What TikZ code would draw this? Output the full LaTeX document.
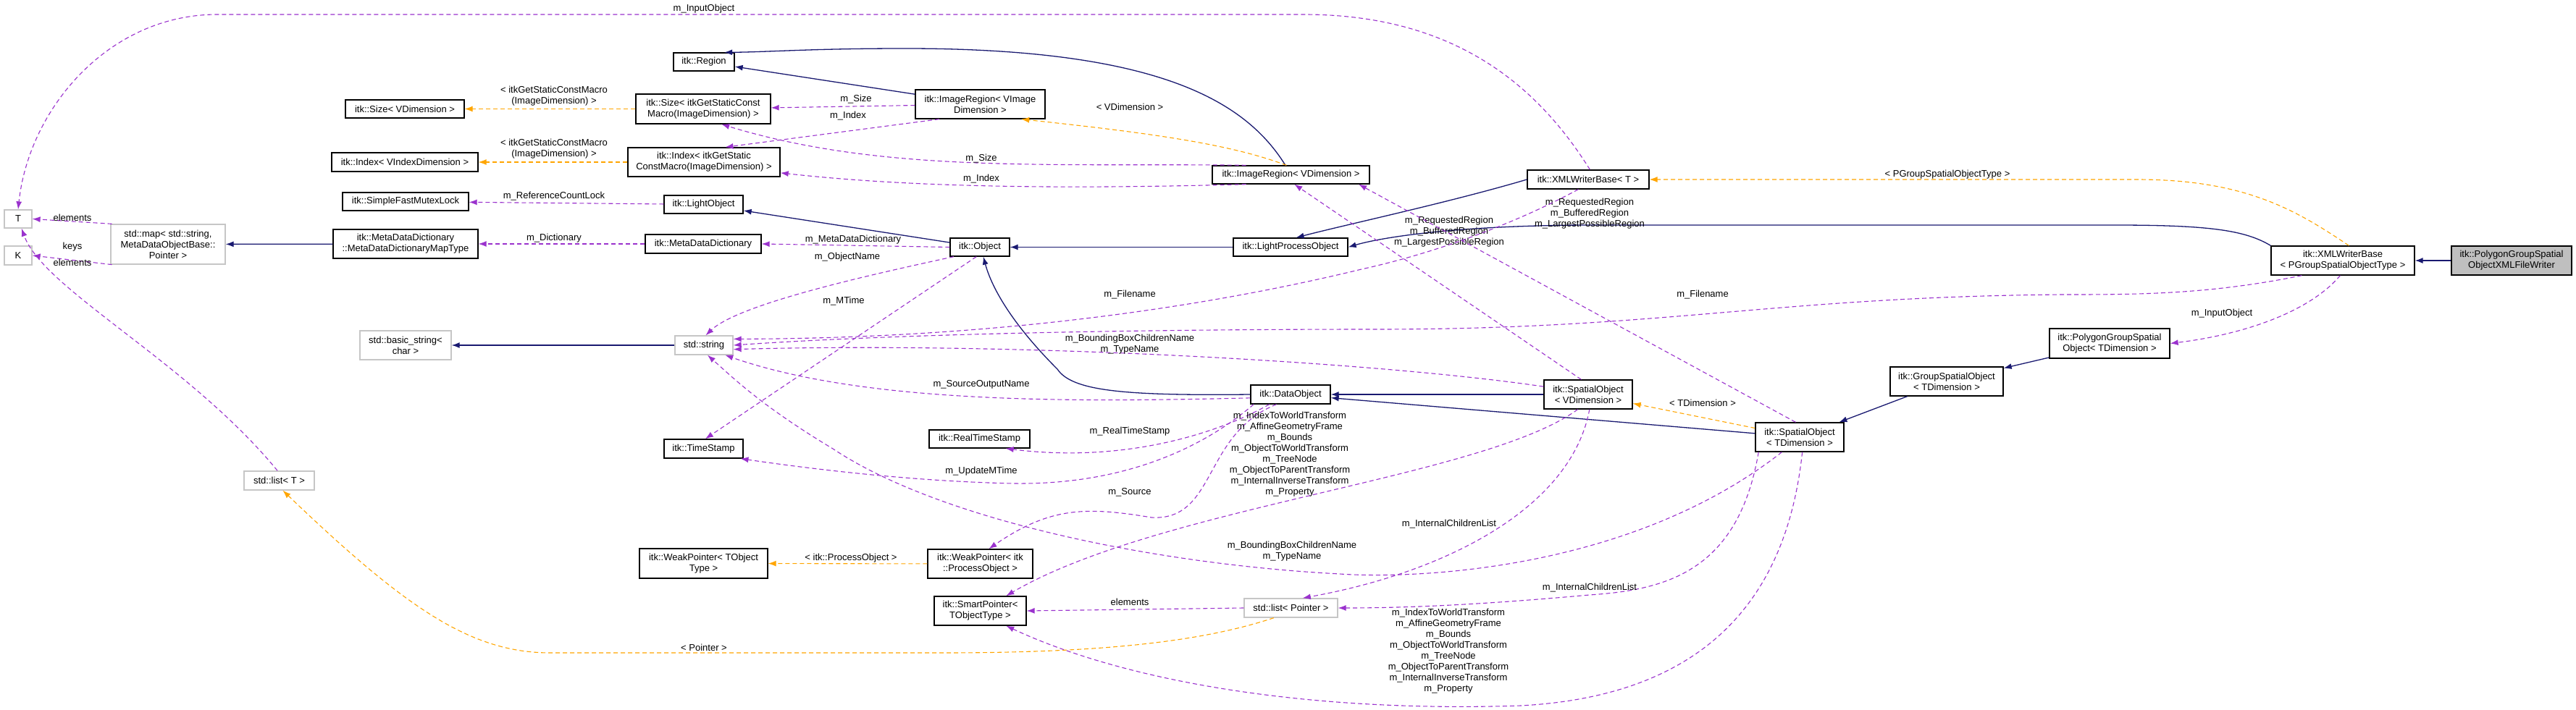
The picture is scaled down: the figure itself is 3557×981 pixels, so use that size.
\documentclass[tikz,border=0pt]{standalone}
\usepackage{fontspec}
\setmainfont{Liberation Sans}
\usetikzlibrary{arrows.meta}
\definecolor{inhc}{HTML}{191970}
\definecolor{usec}{HTML}{9A32CD}
\definecolor{tplc}{HTML}{FFA500}
\begin{document}
\begin{tikzpicture}[x=1pt,y=-1pt,
  every node/.style={font=\fontsize{13}{15}\selectfont},
  box/.style={draw=black,line width=1.3pt,fill=white,inner sep=0pt,align=center},
  gbox/.style={draw=gray!45,line width=1.3pt,fill=white,inner sep=0pt,align=center},
  tip/.style={-{Latex[length=11pt,width=8pt]}},
  inh/.style={tip,draw=inhc,line width=1.3pt},
  use/.style={tip,draw=usec,line width=1.1pt,dash pattern=on 6pt off 4pt},
  tpl/.style={tip,draw=tplc,line width=1.1pt,dash pattern=on 6pt off 4pt},
  lab/.style={align=center,inner sep=0pt}]
\useasboundingbox (0,0) rectangle (3557,981);
% nodes
\node[box,minimum width=84pt,minimum height=25pt] (region) at (972,85.5) {itk::Region};
\node[box,minimum width=164pt,minimum height=25pt] (sizeV) at (559,150.5) {itk::Size< VDimension >};
\node[box,minimum width=186pt,minimum height=41pt] (sizeM) at (971,150.5) {itk::Size< itkGetStaticConst\\Macro(ImageDimension) >};
\node[box,minimum width=202pt,minimum height=26pt] (indexV) at (559,224) {itk::Index< VIndexDimension >};
\node[box,minimum width=210pt,minimum height=40pt] (indexM) at (972,224) {itk::Index< itkGetStatic\\ConstMacro(ImageDimension) >};
\node[box,minimum width=174pt,minimum height=25pt] (mutex) at (560,278.5) {itk::SimpleFastMutexLock};
\node[box,minimum width=109pt,minimum height=25pt] (lightobj) at (971.5,282.5) {itk::LightObject};
\node[gbox,minimum width=38pt,minimum height=25pt] (T) at (25,302.5) {T};
\node[gbox,minimum width=38pt,minimum height=26pt] (K) at (25,353) {K};
\node[gbox,minimum width=158pt,minimum height=55pt] (map) at (232,337.5) {std::map< std::string,\\MetaDataObjectBase::\\Pointer >};
\node[box,minimum width=200pt,minimum height=40pt] (mddmap) at (560,337) {itk::MetaDataDictionary\\::MetaDataDictionaryMapType};
\node[box,minimum width=160pt,minimum height=26pt] (mdd) at (971,337) {itk::MetaDataDictionary};
\node[gbox,minimum width=126pt,minimum height=40pt] (basic) at (560,477) {std::basic\_string<\\char >};
\node[gbox,minimum width=80pt,minimum height=26pt] (string) at (972,477) {std::string};
\node[box,minimum width=179pt,minimum height=40pt] (imgregVI) at (1353.5,144) {itk::ImageRegion< VImage\\Dimension >};
\node[box,minimum width=217pt,minimum height=25pt] (imgregV) at (1782.5,241.5) {itk::ImageRegion< VDimension >};
\node[box,minimum width=168pt,minimum height=26pt] (xmlT) at (2193,248) {itk::XMLWriterBase< T >};
\node[box,minimum width=82pt,minimum height=25pt] (object) at (1353,341.5) {itk::Object};
\node[box,minimum width=158pt,minimum height=25pt] (lpo) at (1782,341.5) {itk::LightProcessObject};
\node[box,minimum width=198pt,minimum height=40pt] (xmlP) at (3235,360) {itk::XMLWriterBase\\< PGroupSpatialObjectType >};
\node[box,fill=gray!50,minimum width=166pt,minimum height=40pt] (writer) at (3468,360) {itk::PolygonGroupSpatial\\ObjectXMLFileWriter};
\node[box,minimum width=166pt,minimum height=41pt] (pgso) at (2913,474.5) {itk::PolygonGroupSpatial\\Object< TDimension >};
\node[box,minimum width=109pt,minimum height=26pt] (timestamp) at (971.5,620) {itk::TimeStamp};
\node[gbox,minimum width=97pt,minimum height=26pt] (listT) at (385.5,664) {std::list< T >};
\node[box,minimum width=177pt,minimum height=41pt] (wpT) at (971.5,778.5) {itk::WeakPointer< TObject\\Type >};
\node[box,minimum width=110pt,minimum height=26pt] (dataobj) at (1782,545) {itk::DataObject};
\node[box,minimum width=122pt,minimum height=40pt] (soV) at (2193,545) {itk::SpatialObject\\< VDimension >};
\node[box,minimum width=139pt,minimum height=25pt] (rts) at (1352.5,606.5) {itk::RealTimeStamp};
\node[box,minimum width=145pt,minimum height=40pt] (wpPO) at (1353.5,779) {itk::WeakPointer< itk\\::ProcessObject >};
\node[box,minimum width=127pt,minimum height=40pt] (sp) at (1353.5,844) {itk::SmartPointer<\\TObjectType >};
\node[gbox,minimum width=129pt,minimum height=26pt] (listP) at (1782.5,840) {std::list< Pointer >};
\node[box,minimum width=156pt,minimum height=40pt] (gso) at (2688,527) {itk::GroupSpatialObject\\< TDimension >};
\node[box,minimum width=122pt,minimum height=40pt] (soT) at (2485,604) {itk::SpatialObject\\< TDimension >};
% inheritance
\draw[inh] (imgregVI) -- (region);
\draw[inh] (imgregV.120) .. controls (1720,140) and (1600,67) .. (1250,67) .. controls (1120,67) and (1060,72) .. (region.25);
\draw[inh] (object) -- (lightobj);
\draw[inh] (mddmap) -- (map);
\draw[inh] (string) -- (basic);
\draw[inh] (lpo) -- (object);
\draw[inh] (xmlT.west) .. controls (2000,280) and (1860,310) .. (lpo.60);
\draw[inh] (xmlP.north west) .. controls (3100,318) and (3050,311) .. (2920,311) -- (2200,311) .. controls (2000,311) and (1900,330) .. (lpo.east);
\draw[inh] (dataobj.west) .. controls (1550,547) and (1480,540) .. (1460,510) .. controls (1400,450) and (1370,400) .. (object.290);
\draw[inh] (soV.west) -- (dataobj.east);
\draw[inh] (soT) -- (dataobj);
\draw[inh] (gso) -- (soT);
\draw[inh] (pgso) -- (gso);
\draw[inh] (writer) -- (xmlP);
% usage
\draw[use] (xmlT.80) .. controls (2130,130) and (2020,20) .. (1800,20) -- (300,20) .. controls (150,20) and (40,150) .. (T.north);
\node[lab] at (972,12) {m\_InputObject};
\draw[use] (imgregVI) -- (sizeM);
\node[lab] at (1182,137) {m\_Size};
\draw[use] (imgregVI.-160) -- (indexM.35);
\node[lab] at (1171,160) {m\_Index};
\draw[use] (imgregV.168) .. controls (1450,225) and (1220,240) .. (sizeM.-40);
\node[lab] at (1355,219) {m\_Size};
\draw[use] (imgregV.192) .. controls (1450,262) and (1250,258) .. (indexM.-8);
\node[lab] at (1355,247) {m\_Index};
\draw[use] (lightobj) -- (mutex);
\node[lab] at (765,271) {m\_ReferenceCountLock};
\draw[use] (map.160) -- (T.east);
\node[lab] at (100,301) {elements};
\draw[use] (map.200) -- (K.east);
\node[lab] at (100,341) {keys};
\draw[use] (listT.100) .. controls (260,500) and (60,400) .. (T.-70);
\node[lab] at (100,363) {elements};
\draw[use] (mdd) -- (mddmap);
\node[lab] at (765,329) {m\_Dictionary};
\draw[use] (object.west) -- (mdd.east);
\node[lab] at (1178,331) {m\_MetaDataDictionary};
\draw[use] (object.200) .. controls (1200,380) and (1020,420) .. (string.80);
\node[lab] at (1170,355) {m\_ObjectName};
\draw[use] (object.250) -- (timestamp.80);
\node[lab] at (1165,416) {m\_MTime};
\draw[use] (soV.115) -- (imgregV.-70);
\node[lab] at (2001,320) {m\_RequestedRegion\\m\_BufferedRegion\\m\_LargestPossibleRegion};
\draw[use] (soT.105) -- (imgregV.-8);
\node[lab] at (2195,295) {m\_RequestedRegion\\m\_BufferedRegion\\m\_LargestPossibleRegion};
\draw[use] (xmlT.-135) .. controls (2090,310) and (1980,350) .. (1880,372) .. controls (1600,440) and (1300,468) .. (string.12);
\node[lab] at (1560,407) {m\_Filename};
\draw[use] (xmlP.-160) .. controls (3050,407) and (2950,407) .. (2850,407) .. controls (2450,410) and (2300,455) .. (1900,455) .. controls (1500,455) and (1200,464) .. (string.east);
\node[lab] at (2351,407) {m\_Filename};
\draw[use] (soV.170) .. controls (1900,500) and (1400,472) .. (string.-8);
\node[lab] at (1560,476) {m\_BoundingBoxChildrenName\\m\_TypeName};
\draw[use] (dataobj.185) .. controls (1500,555) and (1200,560) .. (string.-25);
\node[lab] at (1355,531) {m\_SourceOutputName};
\draw[use] (dataobj.205) .. controls (1680,600) and (1550,640) .. (rts.-20);
\node[lab] at (1560,596) {m\_RealTimeStamp};
\draw[use] (dataobj.195) .. controls (1660,620) and (1550,670) .. (1400,668) .. controls (1250,665) and (1100,645) .. (timestamp.-15);
\node[lab] at (1355,651) {m\_UpdateMTime};
\draw[use] (dataobj.215) .. controls (1660,600) and (1680,720) .. (1590,715) .. controls (1500,700) and (1450,700) .. (wpPO.60);
\node[lab] at (1560,680) {m\_Source};
\draw[use] (soV.-125) .. controls (2050,660) and (1600,700) .. (sp.30);
\node[lab] at (1781,628) {m\_IndexToWorldTransform\\m\_AffineGeometryFrame\\m\_Bounds\\m\_ObjectToWorldTransform\\m\_TreeNode\\m\_ObjectToParentTransform\\m\_InternalInverseTransform\\m\_Property};
\draw[use] (soV.-85) .. controls (2170,700) and (2000,790) .. (listP.40);
\node[lab] at (2001,724) {m\_InternalChildrenList};
\draw[use] (soT.-140) .. controls (2250,790) and (1950,800) .. (1850,793) .. controls (1600,780) and (1300,720) .. (1150,620) .. controls (1050,560) and (1010,520) .. (string.-70);
\node[lab] at (1784,762) {m\_BoundingBoxChildrenName\\m\_TypeName};
\draw[use] (listP.west) -- (sp.east);
\node[lab] at (1560,832) {elements};
\draw[use] (soT.-160) .. controls (2400,790) and (2300,815) .. (2195,822) .. controls (2050,835) and (1950,840) .. (listP.east);
\node[lab] at (2195,812) {m\_InternalChildrenList};
\draw[use] (soT.-80) .. controls (2470,800) and (2380,960) .. (2100,975) .. controls (1800,985) and (1550,940) .. (sp.-30);
\node[lab] at (2000,900) {m\_IndexToWorldTransform\\m\_AffineGeometryFrame\\m\_Bounds\\m\_ObjectToWorldTransform\\m\_TreeNode\\m\_ObjectToParentTransform\\m\_InternalInverseTransform\\m\_Property};
\draw[use] (xmlP.-100) .. controls (3190,430) and (3100,462) .. (pgso.east);
\node[lab] at (3068,433) {m\_InputObject};
% templates
\draw[tpl] (sizeM) -- (sizeV);
\node[lab] at (765,133) {< itkGetStaticConstMacro\\(ImageDimension) >};
\draw[tpl] (indexM) -- (indexV);
\node[lab] at (765,206) {< itkGetStaticConstMacro\\(ImageDimension) >};
\draw[tpl] (imgregV.115) .. controls (1700,200) and (1600,185) .. (imgregVI.-20);
\node[lab] at (1560,148) {< VDimension >};
\draw[tpl] (xmlP.68) .. controls (3170,290) and (3100,248) .. (2950,248) -- (xmlT.east);
\node[lab] at (2689,241) {< PGroupSpatialObjectType >};
\draw[tpl] (soT) -- (soV);
\node[lab] at (2351,557) {< TDimension >};
\draw[tpl] (wpPO) -- (wpT);
\node[lab] at (1175,771) {< itk::ProcessObject >};
\draw[tpl] (listP.-150) .. controls (1650,890) and (1500,902) .. (1300,902) -- (760,902) .. controls (650,902) and (560,840) .. (listT.-70);
\node[lab] at (972,895) {< Pointer >};
\end{tikzpicture}
\end{document}
